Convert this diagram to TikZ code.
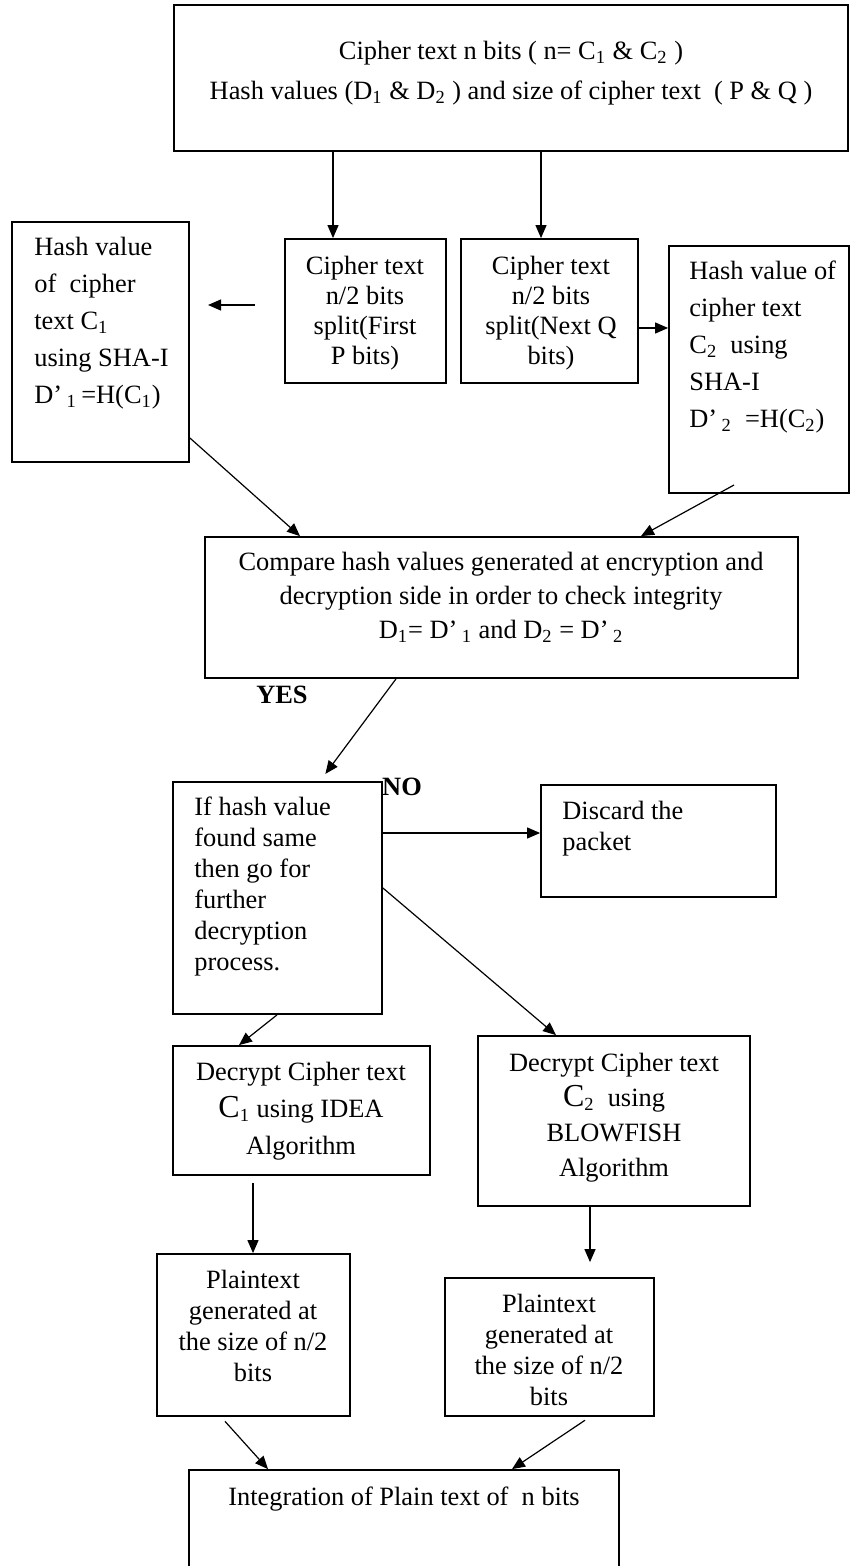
\documentclass[tikz,border=0pt]{standalone}
\usepackage{fontspec}
\setmainfont{Liberation Serif}
\usetikzlibrary{arrows.meta,fit}

\begin{document}
\begin{tikzpicture}[x=0.5pt,y=-0.5pt,
  box/.style={draw,line width=0.9pt,inner sep=0pt,fit={#1}},
  txt/.style={inner sep=0pt,anchor=north,align=center,font=\fontsize{13.2}{#1}\selectfont},
  txt/.default=15.5,
  ltxt/.style={txt=#1,anchor=north west,align=left},
  arr/.style={-{Triangle[length=6.5pt,width=5.5pt]},line width=0.6pt},
  yn/.style={inner sep=0pt,font=\fontsize{13.2}{15}\selectfont\bfseries}]
\useasboundingbox (0,0) rectangle (850,1566);
% boxes and their texts
\node[box={(174,5) (848,151)}] (top) {};
\node[txt=20] (top-t) at (511,41) {Cipher text n bits ( n= C\textsubscript{1}\ \& C\textsubscript{2} )\\Hash values (D\textsubscript{1}\ \& D\textsubscript{2} ) and size of cipher text\ \ ( P \& Q )};
\node[box={(285,239) (446,383)}] (splitp) {};
\node[txt=15] (splitp-t) at (365,256) {Cipher text\\n/2 bits\\split(First\\P bits)};
\node[box={(461,239) (638,383)}] (splitq) {};
\node[txt=15] (splitq-t) at (551,256) {Cipher text\\n/2 bits\\split(Next Q\\bits)};
\node[box={(12,222) (189,462)}] (hashc) {};
\node[ltxt=18.5] (hashc-t) at (34,237) {Hash value\\of\ \ cipher\\text C\textsubscript{1}\\using SHA-I\\D’\,\textsubscript{1}\,=H(C\textsubscript{1})};
\node[box={(669,246) (849,493)}] (hashd) {};
\node[ltxt=18.5] (hashd-t) at (689,261) {Hash value of\\cipher text\\C\textsubscript{2}\ \ using\\SHA-I\\D’\,\textsubscript{2}\ \ =H(C\textsubscript{2})};
\node[box={(205,537) (798,678)}] (cmp) {};
\node[txt=17] (cmp-t) at (501,552) {Compare hash values generated at encryption and\\decryption side in order to check integrity\\D\textsubscript{1}= D’\,\textsubscript{1}\ and D\textsubscript{2} = D’\,\textsubscript{2}};
\node[box={(173,782) (382,1014)}] (same) {};
\node[ltxt=15.5] (same-t) at (194,797) {If hash value\\found same\\then go for\\further\\decryption\\process.};
\node[box={(541,785) (776,897)}] (drop) {};
\node[ltxt=15.5] (drop-t) at (562,801) {Discard the\\packet};
\node[box={(173,1046) (430,1175)}] (idea) {};
\node[txt=18.5] (idea-t) at (301,1062) {Decrypt Cipher text\\{\fontsize{16}{18}\selectfont C}\textsubscript{1}\ using IDEA\\Algorithm};
\node[box={(478,1036) (750,1206)}] (blow) {};
\node[txt=17.5] (blow-t) at (614,1053) {Decrypt Cipher text\\{\fontsize{16}{18}\selectfont C}\textsubscript{2}\ \ using\\BLOWFISH\\Algorithm};
\node[box={(157,1254) (350,1416)}] (plainc) {};
\node[txt] (plainc-t) at (253,1270) {Plaintext\\generated at\\the size of n/2\\bits};
\node[box={(445,1278) (654,1416)}] (plaind) {};
\node[txt] (plaind-t) at (549,1294) {Plaintext\\generated at\\the size of n/2\\bits};
\node[box={(189,1470) (619,1600)}] (join) {};
\node[txt] (join-t) at (404,1486) {Integration of Plain text of\ \ n bits};
\node[yn] (yes) at (282,695) {YES};
\node[yn] (no) at (402,787) {NO};
% connectors
\foreach \x/\n in {333/splitp,541/splitq}
   \draw[arr] (top.south -| \x,0) -- (\n.north -| \x,0);
\coordinate (gapr) at (255,305);
\coordinate (gapl) at (208,305);
\coordinate (hashd-out) at (734,485);
\draw[arr] (gapr) -- (gapl);
\draw[arr] (splitq.east |- 0,328) -- (hashd.west |- 0,328);
\draw[arr] (hashc.east |- 0,438) -- (cmp.north -| 300,0);
\draw[arr] (hashd-out) -- (cmp.north -| 641,0);
\draw[arr,shorten >=4.5pt] (cmp.south -| 396,0) -- (same.north -| 320,0);
\draw[arr] (same.east |- 0,833) -- (drop.west |- 0,833);
\draw[arr] (same.east |- 0,888) -- (blow.north -| 556,0);
\draw[arr] (same.south -| 277,0) -- (idea.north -| 239,0);
\draw[arr,shorten <=3.5pt] (idea.south -| 253,0) -- (plainc.north -| 253,0);
\draw[arr,shorten >=7.5pt] (blow.south -| 590,0) -- (plaind.north -| 590,0);
\draw[arr,shorten <=3pt] (plainc.south -| 221,0) -- (join.north -| 268,0);
\draw[arr,shorten <=3pt] (plaind.south -| 590,0) -- (join.north -| 512,0);
\end{tikzpicture}
\end{document}
